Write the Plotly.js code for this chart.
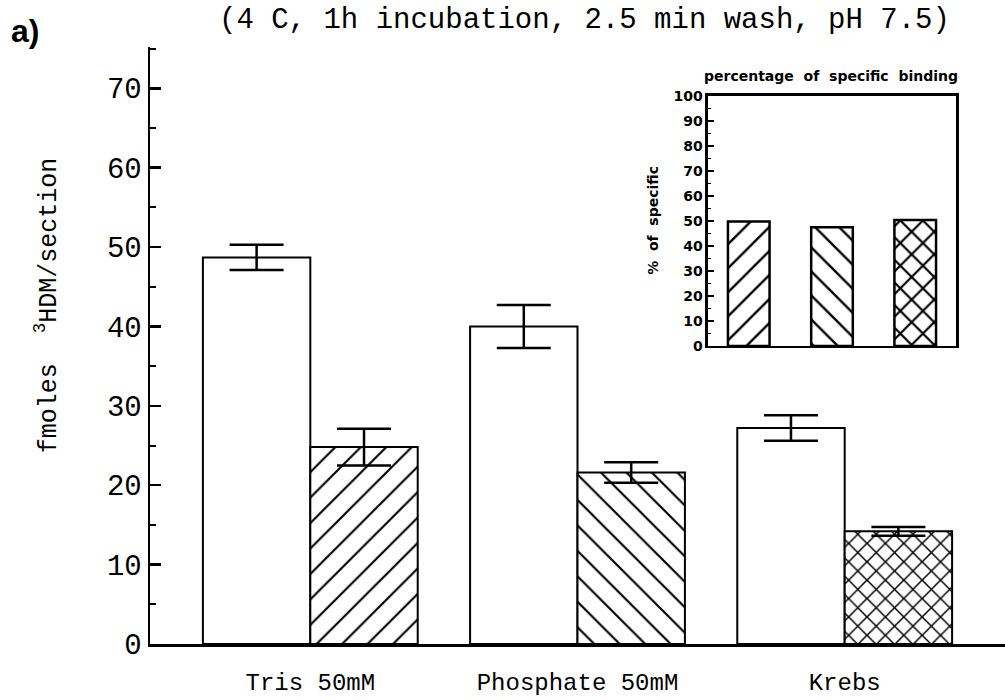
<!DOCTYPE html>
<html>
<head>
<meta charset="utf-8">
<script src="https://cdn.plot.ly/plotly-3.0.1.min.js"></script>
<style>
html,body{margin:0;padding:0;background:#fff;}
#chart{width:1005px;height:700px;}
</style>
</head>
<body>
<div id="chart"></div>
<script>
// ---- data ----
const categories = ['Tris 50mM', 'Phosphate 50mM', 'Krebs'];
const totalValues = [48.7, 40.0, 27.2];
const totalErrors = [1.6, 2.7, 1.6];
const nonspecValues = [24.8, 21.6, 14.2];
const nonspecErrors = [2.3, 1.3, 0.55];
const insetCategories = ['Tris', 'Phosphate', 'Krebs'];
const insetValues = [49.8, 47.5, 50.4];
const hatchShapes = ['/', '\\', 'x'];
const yTicks = [0, 10, 20, 30, 40, 50, 60, 70];
const insetTicks = [0, 10, 20, 30, 40, 50, 60, 70, 80, 90, 100];

const mono = 'Liberation Mono, DejaVu Sans Mono, monospace';
const bold = 'DejaVu Sans, sans-serif';

const traces = [
  {
    type: 'bar', x: categories, y: totalValues, name: 'total',
    marker: {color: 'white', line: {color: 'black', width: 2}},
    error_y: {type: 'data', array: totalErrors, visible: true, color: 'black', thickness: 2.5, width: 27},
    xaxis: 'x', yaxis: 'y', hoverinfo: 'x+y'
  },
  {
    type: 'bar', x: categories, y: nonspecValues, name: 'non-specific',
    marker: {color: 'white', line: {color: 'black', width: 2},
      pattern: {shape: hatchShapes, size: [18, 18, 13], solidity: [0.12, 0.12, 0.22], fgcolor: 'black', bgcolor: 'white', fillmode: 'replace'}},
    error_y: {type: 'data', array: nonspecErrors, visible: true, color: 'black', thickness: 2.5, width: 27},
    xaxis: 'x', yaxis: 'y', hoverinfo: 'x+y'
  },
  {
    type: 'bar', x: insetCategories, y: insetValues, name: '% specific', width: 0.5,
    marker: {color: 'white', line: {color: 'black', width: 2.5},
      pattern: {shape: hatchShapes, size: [17, 17, 16], solidity: [0.14, 0.14, 0.26], fgcolor: 'black', bgcolor: 'white', fillmode: 'replace'}},
    xaxis: 'x2', yaxis: 'y2', hoverinfo: 'x+y'
  }
];

const layout = {
  width: 1005, height: 700,
  margin: {l: 150, r: 0, t: 47, b: 56},
  paper_bgcolor: 'white', plot_bgcolor: 'white',
  showlegend: false,
  barmode: 'group', bargap: 0.196, bargroupgap: 0,
  font: {family: mono, color: 'black'},
  xaxis: {
    domain: [0, 1], range: [-0.6, 2.6], showline: true, linewidth: 3, linecolor: 'black',
    ticks: '', showgrid: false, zeroline: false, automargin: false,
    tickfont: {family: mono, size: 24, color: 'black'}, ticklabelstandoff: 14
  },
  yaxis: {
    domain: [0, 1], range: [0, 75.2], showline: true, linewidth: 2.5, linecolor: 'black',
    showgrid: false, zeroline: false, automargin: false,
    tickmode: 'array', tickvals: yTicks, ticktext: yTicks.map(String),
    ticks: 'inside', ticklen: 11, tickwidth: 2.5, tickcolor: 'black',
    minor: {dtick: 5, tick0: 0, ticks: 'inside', ticklen: 6, tickwidth: 2, tickcolor: 'black'},
    tickfont: {family: mono, size: 29, color: 'black'}, ticklabelstandoff: 0
  },
  xaxis2: {
    domain: [0.6526, 0.9427], anchor: 'y2', range: [-0.49, 2.49],
    showline: true, mirror: true, linewidth: 2.5, linecolor: 'black',
    showticklabels: false, ticks: '', showgrid: false, zeroline: false, automargin: false
  },
  yaxis2: {
    domain: [0.4992, 0.918], anchor: 'x2', range: [0, 100],
    showline: true, mirror: true, linewidth: 2.5, linecolor: 'black',
    showgrid: false, zeroline: false, automargin: false,
    tickmode: 'array', tickvals: insetTicks, ticktext: insetTicks.map(String),
    ticks: 'inside', ticklen: 6, tickwidth: 2, tickcolor: 'black',
    minor: {dtick: 5, tick0: 0, ticks: 'inside', ticklen: 3, tickwidth: 1.5, tickcolor: 'black'},
    tickfont: {family: bold, size: 14, color: 'black', weight: 'bold'}, ticklabelstandoff: 0
  },
  annotations: [
    {text: '(4 C, 1h incubation, 2.5 min wash, pH 7.5)', xref: 'paper', yref: 'paper',
     x: 0.508, y: 1.076, xanchor: 'center', yanchor: 'top', showarrow: false,
     font: {family: mono, size: 29, color: 'black'}},
    {text: '<b>a)</b>', xref: 'paper', yref: 'paper', x: -0.146, y: 1.027,
     xanchor: 'center', yanchor: 'middle', showarrow: false,
     font: {family: 'Liberation Sans, Arial, sans-serif', size: 32, color: 'black'}},
    {text: 'fmoles  <sup>3</sup>HDM/section', xref: 'paper', yref: 'paper', x: -0.12, y: 0.568,
     xanchor: 'center', yanchor: 'middle', textangle: -90, showarrow: false,
     font: {family: mono, size: 25, color: 'black'}},
    {text: '<b>percentage  of  specific  binding</b>', xref: 'paper', yref: 'paper', x: 0.7965, y: 0.951,
     xanchor: 'center', yanchor: 'middle', showarrow: false,
     font: {family: bold, size: 14, color: 'black'}},
    {text: '<b>%  of  specific</b>', xref: 'paper', yref: 'paper', x: 0.588, y: 0.71,
     xanchor: 'center', yanchor: 'middle', textangle: -90, showarrow: false,
     font: {family: bold, size: 14, color: 'black'}}
  ]
};

Plotly.newPlot('chart', traces, layout, {staticPlot: true, displayModeBar: false});
</script>
</body>
</html>
